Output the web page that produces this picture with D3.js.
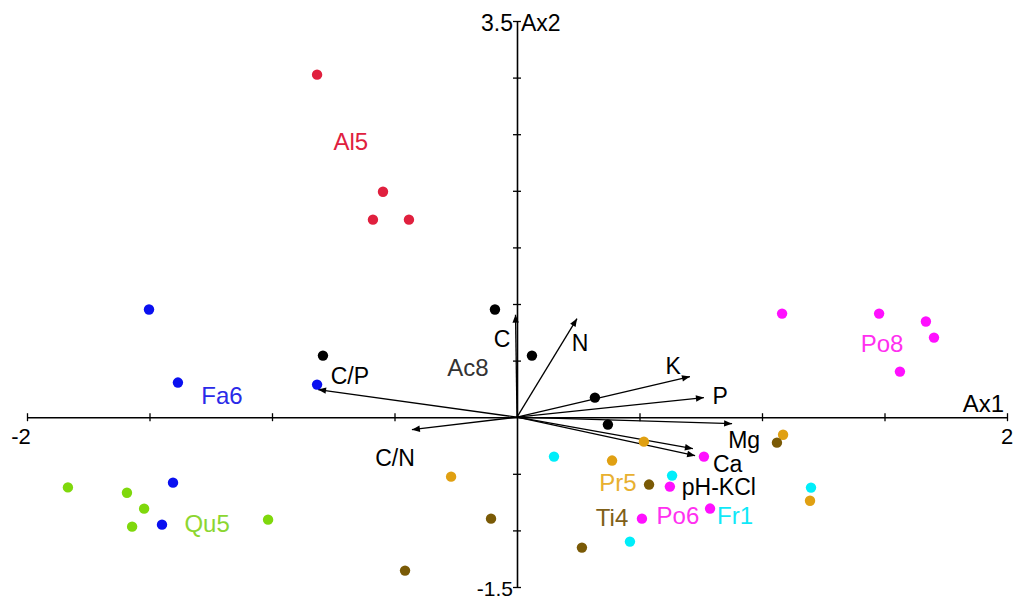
<!DOCTYPE html>
<html><head><meta charset="utf-8">
<script src="https://cdn.jsdelivr.net/npm/d3@7"></script>
<style>html,body{margin:0;padding:0;background:#fff;}svg{display:block;font-family:"Liberation Sans",Arial,sans-serif;}</style>
</head><body>
<svg id="chart" width="1016" height="601"></svg>
<script>
// ---- data ----
const groups = ["Al5","Fa6","Qu5","Ac8","Po8","Po6","Fr1","Pr5","Ti4"];
const groupColors = ["#e0203e","#0a10f0","#7fd80c","#000000","#ff10ff","#ff10ff","#00eefa","#e0a012","#7a5a06"];
const labelColors = ["#e0203e","#2a2ae8","#8cd630","#333333","#ff30f0","#ff30f0","#10e8f8","#e8b030","#7f6018"];
const groupLabelX = [-0.678,-1.204,-1.265,-0.200,1.490,0.657,0.890,0.412,0.388];
const groupLabelY = [2.434,0.190,-0.940,0.438,0.650,-0.870,-0.870,-0.578,-0.887];

const ptsAl5 = [[-0.816,3.026],[-0.547,1.992],[-0.588,1.745],[-0.441,1.745]];
const ptsFa6 = [[-1.502,0.951],[-1.384,0.306],[-0.816,0.288],[-1.404,-0.578],[-1.449,-0.949]];
const ptsQu5 = [[-1.833,-0.620],[-1.592,-0.667],[-1.522,-0.808],[-1.571,-0.967],[-1.016,-0.905]];
const ptsAc8 = [[-0.090,0.951],[0.061,0.544],[-0.792,0.544],[0.318,0.173],[0.371,-0.065]];
const ptsPo8 = [[1.082,0.915],[1.478,0.915],[1.669,0.845],[1.702,0.703],[1.563,0.403]];
const ptsPo6 = [[0.763,-0.348],[0.624,-0.613],[0.510,-0.896],[0.788,-0.807]];
const ptsFr1 = [[0.151,-0.348],[0.633,-0.516],[0.461,-1.099],[1.200,-0.622]];
const ptsPr5 = [[-0.269,-0.525],[0.388,-0.383],[0.518,-0.216],[1.086,-0.155],[1.196,-0.738]];
const ptsTi4 = [[-0.106,-0.896],[-0.457,-1.355],[0.539,-0.595],[0.265,-1.152],[1.061,-0.225]];
const groupPoints = [ptsAl5,ptsFa6,ptsQu5,ptsAc8,ptsPo8,ptsPo6,ptsFr1,ptsPr5,ptsTi4];

const varNames = ["C/P","C/N","C","N","K","P","Mg","Ca","pH-KCl"];
const varX = [-0.812,-0.429,-0.006,0.245,0.706,0.763,0.878,0.718,0.727];
const varY = [0.244,-0.110,0.906,0.871,0.359,0.173,-0.057,-0.278,-0.340];
const varLabelX = [-0.682,-0.498,-0.061,0.257,0.637,0.829,0.927,0.860,0.824];
const varLabelY = [0.367,-0.357,0.694,0.658,0.456,0.191,-0.200,-0.410,-0.610];

const xTicks = [-2,-1.5,-1,-0.5,0.5,1,1.5,2];
const yTicks = [-1.5,-1,-0.5,0.5,1,1.5,2,2.5,3,3.5];
const xDomain = [-2,2];
const yDomain = [-1.5,3.5];

// ---- drawing ----
const svg = d3.select("#chart");
const x = d3.scaleLinear().domain(xDomain).range([27,1007]);
const y = d3.scaleLinear().domain(yDomain).range([587,21]);

// axes through origin
const xAxis = d3.axisBottom(x).tickValues(xTicks).tickSizeInner(4).tickSizeOuter(0).tickFormat("");
const yAxis = d3.axisLeft(y).tickValues(yTicks).tickSizeInner(4).tickSizeOuter(0).tickFormat("");
const gx = svg.append("g").attr("transform",`translate(0,${y(0)})`).call(xAxis);
const gy = svg.append("g").attr("transform",`translate(${x(0)},0)`).call(yAxis);
[gx,gy].forEach(g=>{
  g.select(".domain").attr("stroke","#000").attr("stroke-width",1.6);
  g.selectAll(".tick line").attr("stroke","#000").attr("stroke-width",1.3);
});
gx.selectAll(".tick line").attr("y1",-4).attr("y2",4);
gy.selectAll(".tick line").attr("x1",-4).attr("x2",4);

// axis end labels
const axText = svg.append("g").attr("fill","#000");
axText.append("text").attr("x",x(-2)-6).attr("y",y(0)+27).attr("text-anchor","middle").attr("font-size",22).text("-2");
axText.append("text").attr("x",x(2)).attr("y",y(0)+27).attr("text-anchor","middle").attr("font-size",22).text("2");
axText.append("text").attr("x",x(2)-3).attr("y",y(0)-5).attr("text-anchor","end").attr("font-size",24).text("Ax1");
axText.append("text").attr("x",x(0)-4).attr("y",y(-1.5)+9).attr("text-anchor","end").attr("font-size",21).text("-1.5");
axText.append("text").attr("x",x(0)-4).attr("y",y(3.5)+10).attr("text-anchor","end").attr("font-size",23).text("3.5");
axText.append("text").attr("x",x(0)+4).attr("y",y(3.5)+10).attr("text-anchor","start").attr("font-size",23).text("Ax2");

// arrows
svg.append("defs").append("marker").attr("id","ah")
  .attr("viewBox","0 0 10 10").attr("refX",10).attr("refY",5)
  .attr("markerWidth",10).attr("markerHeight",8).attr("markerUnits","userSpaceOnUse")
  .attr("orient","auto")
  .append("path").attr("d","M0,1 L10,5 L0,9 Z").attr("fill","#000");
const arrows = svg.append("g");
varNames.forEach((n,i)=>{
  arrows.append("line").attr("x1",x(0)).attr("y1",y(0)).attr("x2",x(varX[i])).attr("y2",y(varY[i]))
    .attr("stroke","#000").attr("stroke-width",1.3).attr("marker-end","url(#ah)");
});

// points
const pts = svg.append("g");
groupPoints.forEach((arr,gi)=>{
  pts.selectAll(null).data(arr).enter().append("circle")
    .attr("cx",d=>x(d[0])).attr("cy",d=>y(d[1])).attr("r",5.2).attr("fill",groupColors[gi]);
});

// variable labels
const vl = svg.append("g").attr("font-size",23).attr("fill","#000");
varNames.forEach((n,i)=>{
  vl.append("text").attr("x",x(varLabelX[i])).attr("y",y(varLabelY[i])).attr("dy","0.36em")
    .attr("text-anchor","middle").text(n);
});

// group labels
const gl = svg.append("g").attr("font-size",24);
groups.forEach((g,i)=>{
  gl.append("text").attr("x",x(groupLabelX[i])).attr("y",y(groupLabelY[i])).attr("dy","0.36em")
    .attr("text-anchor","middle").attr("fill",labelColors[i]).text(g);
});
</script>
</body></html>
